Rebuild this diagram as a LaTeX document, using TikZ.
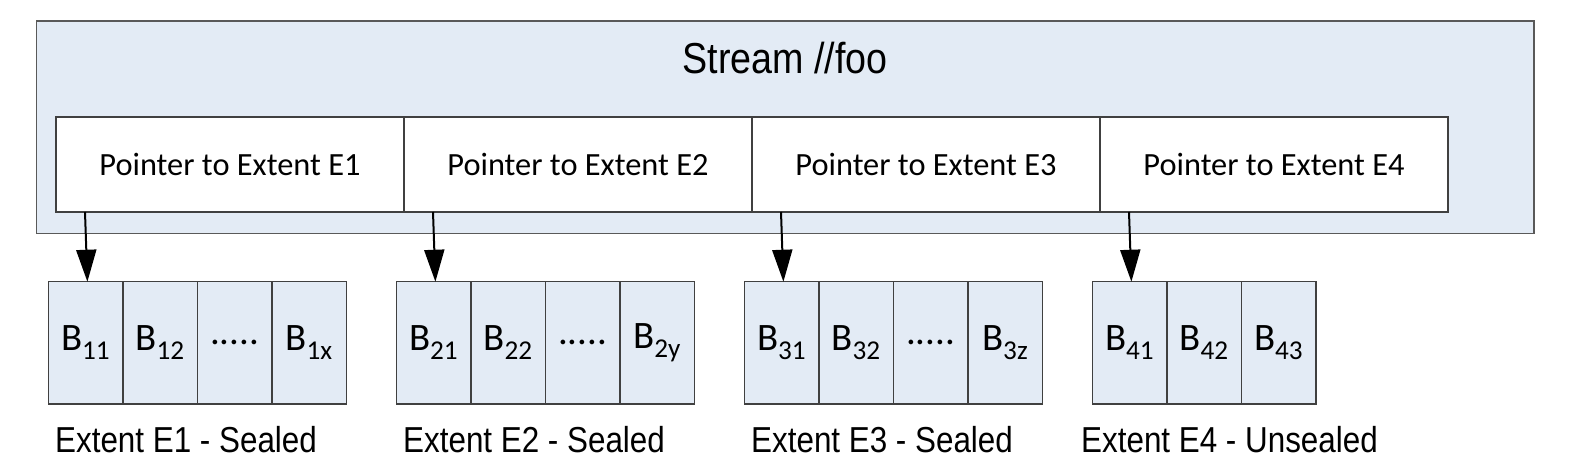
\documentclass[tikz,border=0pt]{standalone}
\usepackage{graphicx}
\usepackage{fontspec}
\setmainfont{Liberation Sans}
\newfontfamily\calibri{Carlito}
\usetikzlibrary{arrows.meta,positioning}
\definecolor{streamblue}{HTML}{E3EBF5}
\newcommand\tall[1]{\scalebox{1}[1.15]{#1}}

\begin{document}
\begin{tikzpicture}
  [
    x                = 1bp,
    y                = -1bp,
    box/.style       = {draw=black!75, line width=1.4bp, inner sep=0pt, outer sep=0pt},
    pointer/.style   = {box, fill=white, minimum width=348bp, minimum height=95bp,
                        font=\calibri\fontsize{32.5}{38}\selectfont},
    block/.style     = {box, fill=streamblue, minimum width=74.5bp, minimum height=122.3bp,
                        font=\calibri\fontsize{39}{44}\selectfont},
    caption/.style   = {anchor=base west, inner sep=0pt, font=\fontsize{31.5}{36}\selectfont},
    link/.style      = {draw, line width=2bp, -{Triangle[width=20bp,length=32bp]}}
  ]
  \useasboundingbox (0,0) rectangle (1582,472);

  % the stream and its pointers
  \node [box, fill=streamblue, draw=black!65, minimum width=1497.5bp, minimum height=212.5bp]
    (stream) at (785.25,127.25) {};
  \node [anchor=base, inner sep=0pt, font=\fontsize{37.8}{44}\selectfont]
    (title) at (785,73.3) {\tall{Stream //foo}};
  \foreach \i/\off in {1/0, 2/348, 3/696, 4/1044}
    \node [pointer] (p\i) at (230+\off,164.5) {Pointer to Extent E\i};

  % extent E1
  \node [block] (b11) at (85.65,342.9) {B\textsubscript{11}};
  \node [block, right=0pt of b11] (b12) {B\textsubscript{12}};
  \node [block, right=0pt of b12] (b13) {.....};
  \node [block, right=0pt of b13] (b14) {B\textsubscript{1x}};
  % extent E2
  \node [block] (b21) at (433.65,342.9) {B\textsubscript{21}};
  \node [block, right=0pt of b21] (b22) {B\textsubscript{22}};
  \node [block, right=0pt of b22] (b23) {.....};
  \node [block, right=0pt of b23] (b24) {B\textsubscript{2y}};
  % extent E3
  \node [block] (b31) at (781.65,342.9) {B\textsubscript{31}};
  \node [block, right=0pt of b31] (b32) {B\textsubscript{32}};
  \node [block, right=0pt of b32] (b33) {.....};
  \node [block, right=0pt of b33] (b34) {B\textsubscript{3z}};
  % extent E4
  \node [block] (b41) at (1129.65,342.9) {B\textsubscript{41}};
  \node [block, right=0pt of b41] (b42) {B\textsubscript{42}};
  \node [block, right=0pt of b42] (b43) {B\textsubscript{43}};

  % captions
  \node [caption] (c1) at (55,452.7)   {\tall{Extent E1 - Sealed}};
  \node [caption] (c2) at (403,452.7)  {\tall{Extent E2 - Sealed}};
  \node [caption] (c3) at (751,452.7)  {\tall{Extent E3 - Sealed}};
  \node [caption] (c4) at (1081,452.7) {\tall{Extent E4 - Unsealed}};

  % pointers to extents
  \foreach \i in {1,2,3,4}
    \draw [link] ([xshift=29bp]p\i.south west) -- ([xshift=39bp]b\i1.north west);
\end{tikzpicture}
\end{document}
